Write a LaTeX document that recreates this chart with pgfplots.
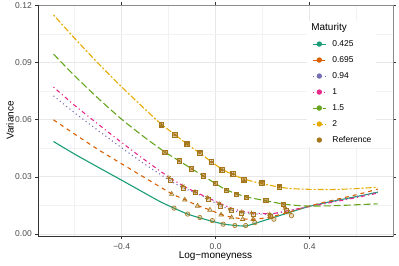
\documentclass[border=0pt]{standalone}
\usepackage{pgfplots}
\pgfplotsset{compat=1.18}
\usepackage{fontspec}
\setmainfont{Liberation Sans}
\definecolor{cA}{HTML}{1B9E77}
\definecolor{cB}{HTML}{D95F02}
\definecolor{cC}{HTML}{7570B3}
\definecolor{cD}{HTML}{E7298A}
\definecolor{cE}{HTML}{66A61E}
\definecolor{cF}{HTML}{E6AB02}
\definecolor{refc}{HTML}{A6761D}
\begin{document}
\begin{tikzpicture}
\useasboundingbox (0,0) rectangle (399bp,266bp);
\begin{axis}[
 at={(38bp,30bp)}, anchor=south west,
 scale only axis, width=355bp, height=231bp,
 xmin=-0.756, xmax=0.755, ymin=-0.0011, ymax=0.1202,
 xtick={-0.4,0,0.4}, xticklabels={−0.4,0.0,0.4},
 minor xtick={-0.6,-0.2,0.2,0.6},
 ytick={0,0.03,0.06,0.09,0.12},
 minor ytick={0.015,0.045,0.075,0.105},
 scaled y ticks=false,
 yticklabel style={/pgf/number format/.cd, fixed, fixed zerofill, precision=2},
 /pgf/number format/assume math mode=true,
 grid=both,
 major grid style={color=black!9, line width=0.6bp},
 minor grid style={color=black!5, line width=0.35bp},
 tick align=outside,
 major tick length=2.75bp,
 minor tick length=0pt,
 tick style={color=black!80, line width=0.5bp},
 ticklabel style={font=\fontsize{8.5}{10}\selectfont, color=black!70},
 xticklabel style={yshift=-1bp},
 axis line style={color=black!45, line width=0.8bp},
 xlabel={Log−moneyness}, ylabel={Variance},
 label style={font=\fontsize{10}{12}\selectfont},
 xlabel style={at={(axis description cs:0.5,-0.0866)}, anchor=center},
 ylabel style={at={(axis description cs:-0.0789,0.5)}, anchor=center},
 legend style={at={(axis description cs:0.758,0.932)}, anchor=north west, draw=none, fill=white,
   inner xsep=5bp, inner ysep=3bp, font=\fontsize{8.5}{10}\selectfont,
   nodes={inner sep=0pt, text height=6.5bp, text depth=1.8bp}, row sep=7.7bp, column sep=6bp},
 legend cell align=left,
 legend image code/.code={\draw[mark repeat=2,mark phase=2,#1] plot coordinates {(0bp,0bp) (6.5bp,0bp) (13bp,0bp)};},
 after end axis/.code={\draw[black!80,line width=0.9bp] (rel axis cs:0,1) -- (rel axis cs:0,0) -- (rel axis cs:1,0);},
 every axis plot/.append style={line width=1.1bp},
]
% legend
\addlegendimage{empty legend}
\addlegendentry{\hspace*{-21bp}\fontsize{10}{12}\selectfont Maturity}
\addlegendimage{cA, solid, mark=*, mark size=2.1bp, mark options={solid, draw=none}, line width=1.1bp}
\addlegendentry{0.425}
\addlegendimage{cB, dash pattern=on 4bp off 4bp, mark=*, mark size=2.1bp, mark options={solid, draw=none}, line width=1.1bp}
\addlegendentry{0.695}
\addlegendimage{cC, dash pattern=on 1.1bp off 3bp, mark=*, mark size=2.1bp, mark options={solid, draw=none}, line width=1.1bp}
\addlegendentry{0.94}
\addlegendimage{cD, dash pattern=on 1.1bp off 3bp on 4bp off 3bp, mark=*, mark size=2.1bp, mark options={solid, draw=none}, line width=1.1bp}
\addlegendentry{1}
\addlegendimage{cE, dash pattern=on 7bp off 3bp, mark=*, mark size=2.1bp, mark options={solid, draw=none}, line width=1.1bp}
\addlegendentry{1.5}
\addlegendimage{cF, dash pattern=on 2bp off 2bp on 6bp off 2bp, mark=*, mark size=2.1bp, mark options={solid, draw=none}, line width=1.1bp}
\addlegendentry{2}
\addlegendimage{only marks, refc, mark=*, mark size=2.1bp, mark options={draw=none}}
\addlegendentry{Reference}

% lines
\addplot[forget plot, cA, solid, no marks, smooth, tension=0.4] coordinates {
(-0.69,0.0485) (-0.6,0.0419) (-0.5,0.0350) (-0.4,0.0282) (-0.3,0.0213) (-0.237,0.0170) (-0.177,0.0135) (-0.119,0.0104) (-0.067,0.0084) (-0.014,0.0066) (0.032,0.0052) (0.08,0.0045) (0.13,0.0042) (0.2,0.0068) (0.3,0.0107) (0.4,0.0145) (0.5,0.0172) (0.6,0.0196) (0.69,0.0219)};
\addplot[forget plot, cB, dash pattern=on 4bp off 4bp, no marks, smooth, tension=0.4] coordinates {
(-0.69,0.0599) (-0.6,0.0524) (-0.5,0.0443) (-0.4,0.0368) (-0.3,0.0294) (-0.187,0.0211) (-0.131,0.0180) (-0.077,0.0149) (-0.024,0.0126) (0.023,0.0102) (0.068,0.0088) (0.115,0.0079) (0.16,0.0077) (0.2,0.0082) (0.24,0.0091) (0.3,0.0110) (0.4,0.0147) (0.5,0.0177) (0.6,0.0206) (0.69,0.0235)};
\addplot[forget plot, cC, dash pattern=on 1.1bp off 3bp, no marks, smooth, tension=0.4] coordinates {
(-0.69,0.0725) (-0.6,0.0636) (-0.5,0.0543) (-0.4,0.0452) (-0.3,0.0365) (-0.194,0.0280) (-0.138,0.0242) (-0.085,0.0215) (-0.031,0.0183) (0.018,0.0150) (0.065,0.0126) (0.111,0.0112) (0.16,0.0105) (0.23,0.0104) (0.3,0.0118) (0.4,0.0145) (0.5,0.0171) (0.6,0.0196) (0.69,0.0220)};
\addplot[forget plot, cD, dash pattern=on 1.1bp off 3bp on 4bp off 3bp, no marks, smooth, tension=0.4] coordinates {
(-0.69,0.0771) (-0.6,0.0675) (-0.5,0.0576) (-0.4,0.0480) (-0.3,0.0387) (-0.2,0.0299) (-0.14,0.0254) (-0.09,0.0222) (-0.036,0.0192) (0.015,0.0162) (0.06,0.0138) (0.11,0.0120) (0.16,0.0110) (0.2,0.0107) (0.25,0.0108) (0.3,0.0120) (0.4,0.0144) (0.5,0.0167) (0.6,0.0191) (0.69,0.0214)};
\addplot[forget plot, cE, dash pattern=on 7bp off 3bp, no marks, smooth, tension=0.4] coordinates {
(-0.69,0.0944) (-0.6,0.0830) (-0.5,0.0712) (-0.4,0.0602) (-0.3,0.0505) (-0.216,0.0430) (-0.156,0.0384) (-0.102,0.0342) (-0.053,0.0305) (-0.003,0.0266) (0.044,0.0232) (0.089,0.0211) (0.132,0.0194) (0.214,0.0174) (0.288,0.0157) (0.35,0.0149) (0.4,0.0146) (0.5,0.0148) (0.6,0.0153) (0.69,0.0158)};
\addplot[forget plot, cF, dash pattern=on 2bp off 2bp on 6bp off 2bp, no marks, smooth, tension=0.4] coordinates {
(-0.69,0.1150) (-0.6,0.1027) (-0.5,0.0896) (-0.4,0.0772) (-0.3,0.0654) (-0.23,0.0575) (-0.173,0.0521) (-0.121,0.0471) (-0.067,0.0424) (-0.017,0.0378) (0.028,0.0339) (0.075,0.0311) (0.121,0.0288) (0.197,0.0264) (0.271,0.0246) (0.32,0.0238) (0.4,0.0234) (0.5,0.0233) (0.6,0.0238) (0.69,0.0245)};

% reference points
\addplot[forget plot, only marks, refc, mark=*, mark size=2.2bp, line width=0.6bp, mark options={fill=refc, fill opacity=0.25}] coordinates {
(-0.177,0.0135) (-0.119,0.0104) (-0.067,0.0086) (-0.014,0.0070) (0.032,0.0051) (0.082,0.0044) (0.128,0.0044) (0.167,0.0059) (0.248,0.0077) (0.323,0.0096)};
\addplot[forget plot, only marks, refc, mark=triangle*, mark size=2.6bp, line width=0.6bp, mark options={fill=refc, fill opacity=0.25}] coordinates {
(-0.187,0.0209) (-0.131,0.0179) (-0.077,0.0147) (-0.024,0.0126) (0.023,0.0100) (0.068,0.0086) (0.115,0.0077) (0.160,0.0077) (0.238,0.0091) (0.313,0.0112)};
\addplot[forget plot, only marks, refc, mark=square*, mark size=2bp, line width=0.6bp, mark options={fill=refc, fill opacity=0.25}] coordinates {
(-0.194,0.0279) (-0.138,0.0240) (-0.085,0.0217) (-0.031,0.0182) (0.018,0.0147) (0.065,0.0122) (0.111,0.0109) (0.160,0.0104) (0.231,0.0095) (0.302,0.0126)};
\addplot[forget plot, only marks, refc, mark=asterisk, mark size=2.4bp, line width=0.7bp] coordinates {
(-0.199,0.0296) (-0.140,0.0252) (-0.088,0.0222) (-0.036,0.0191) (0.015,0.0161) (0.061,0.0130) (0.111,0.0116) (0.153,0.0109) (0.228,0.0104) (0.295,0.0135)};
\addplot[forget plot, only marks, refc, mark=square*, mark size=2.1bp, line width=0.6bp, mark options={fill=refc, fill opacity=0.45}] coordinates {
(-0.216,0.0429) (-0.156,0.0384) (-0.102,0.0342) (-0.053,0.0305) (-0.003,0.0266) (0.044,0.0231) (0.089,0.0210) (0.132,0.0193) (0.214,0.0175) (0.288,0.0156)};
\addplot[forget plot, only marks, refc, mark=x, mark size=2.1bp, line width=0.6bp] coordinates {
(-0.216,0.0429) (-0.156,0.0384) (-0.102,0.0342) (-0.053,0.0305) (-0.003,0.0266) (0.044,0.0231) (0.089,0.0210) (0.132,0.0193) (0.214,0.0175) (0.288,0.0156)};
\addplot[forget plot, only marks, refc, mark=square*, mark size=2.2bp, mark options={draw=none, fill=refc, fill opacity=0.2}] coordinates {
(-0.230,0.0573) (-0.173,0.0520) (-0.121,0.0471) (-0.067,0.0424) (-0.017,0.0377) (0.028,0.0336) (0.075,0.0315) (0.121,0.0284) (0.197,0.0266) (0.271,0.0245)};
\addplot[forget plot, only marks, refc, mark=asterisk, mark size=2.4bp, line width=0.7bp] coordinates {
(-0.230,0.0573) (-0.173,0.0520) (-0.121,0.0471) (-0.067,0.0424) (-0.017,0.0377) (0.028,0.0336) (0.075,0.0315) (0.121,0.0284) (0.197,0.0266) (0.271,0.0245)};
\end{axis}
\end{tikzpicture}
\end{document}
